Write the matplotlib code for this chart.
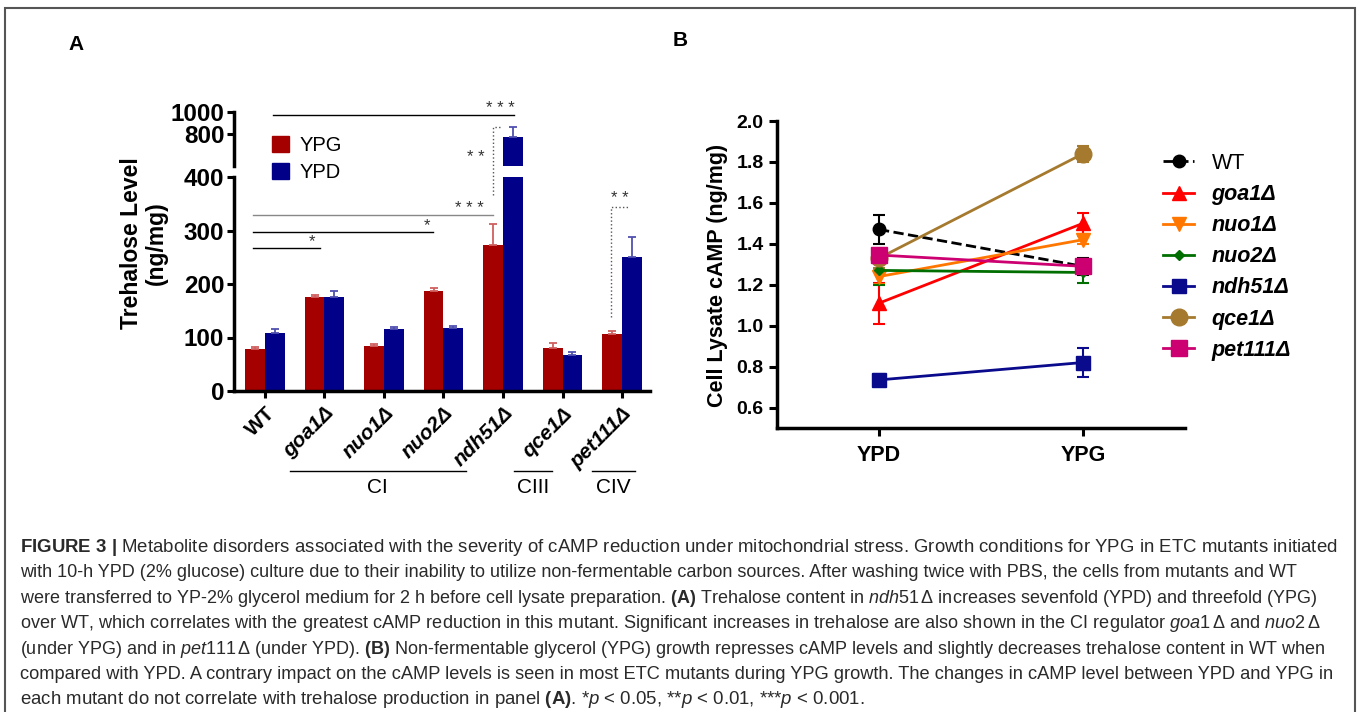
import matplotlib
matplotlib.use("Agg")
import matplotlib.pyplot as plt
import numpy as np
from matplotlib.patches import Patch, Rectangle
from matplotlib.lines import Line2D

plt.rcParams["font.family"] = ["Liberation Sans", "DejaVu Sans"]
plt.rcParams["mathtext.fontset"] = "custom"
plt.rcParams["mathtext.rm"] = "Liberation Sans"
plt.rcParams["mathtext.it"] = "Liberation Sans:italic"
plt.rcParams["mathtext.bf"] = "Liberation Sans:bold"

# ---- data: panel A (trehalose, ng/mg) ----
strains = ["WT", "goa1Δ", "nuo1Δ", "nuo2Δ", "ndh51Δ", "qce1Δ", "pet111Δ"]
ypg_tre = [78, 176, 85, 187, 273, 80, 106]
ypg_err = [5, 3, 2, 6, 39, 9, 7]
ypd_tre = [108, 176, 115, 117, 765, 67, 250]
ypd_err = [7, 11, 5, 4, 95, 6, 37]

# significance lines: (x start, x end, y, label, label x)
sig_lines = [(-0.2, 0.92, 267, "*", 0.79),
             (-0.2, 2.82, 297, "*", 2.72),
             (-0.2, 3.83, 329, "* * *", 3.44),
             (0.13, 4.18, 516, "* * *", 3.96)]
# dotted brackets: (x, x end, y low, y high, label, label x, label y)
brackets = [(3.83, 3.98, 366, 493, "* *", 3.54, 436),
            (5.82, 6.10, 138, 344, "* *", 5.96, 360)]
groups = [("CI", 0.42, 3.37), ("CIII", 4.19, 4.82), ("CIV", 5.49, 6.21)]

# ---- data: panel B (cell lysate cAMP, ng/mg) ----
conditions = ["YPD", "YPG"]
b_labels = ["WT", "goa1Δ", "nuo1Δ", "nuo2Δ", "ndh51Δ", "qce1Δ", "pet111Δ"]
b_ypd = [1.47, 1.11, 1.24, 1.27, 0.735, 1.33, 1.345]
b_ypd_err = [0.07, 0.10, 0.035, 0.07, 0.03, 0.05, 0.03]
b_ypg = [1.29, 1.50, 1.42, 1.26, 0.82, 1.84, 1.29]
b_ypg_err = [0.04, 0.05, 0.02, 0.05, 0.07, 0.04, 0.03]

b_colors = ["black", "#FF0000", "#FF7700", "#006E00", "#0A0A8C", "#A57A2F", "#CC0070"]
b_markers = ["o", "^", "v", "D", "s", "o", "s"]
b_msizes = [9, 10, 10, 5, 10, 12, 11]
b_styles = ["--", "-", "-", "-", "-", "-", "-"]

W, H = 1357, 712
fig = plt.figure(figsize=(W / 100, H / 100), dpi=100)


def fbox(l, t, r, b):
    return [l / W, 1 - b / H, (r - l) / W, (b - t) / H]


red, red_e = "#A50000", "#D06060"
blue, blue_e = "#000088", "#5050B0"

# ---- panel A: broken y axis ----
axA = fig.add_axes(fbox(234, 177, 650, 391))
axA2 = fig.add_axes(fbox(234, 112, 650, 166))
x = np.arange(len(strains))
bw = 0.33
zeros = np.zeros(len(strains))
for ax in (axA, axA2):
    ax.patch.set_alpha(0)
    ax.bar(x - bw / 2, ypg_tre, bw, color=red, yerr=[zeros, ypg_err],
           error_kw=dict(ecolor=red_e, capsize=3, elinewidth=1.3, capthick=1.3))
    ax.bar(x + bw / 2, ypd_tre, bw, color=blue, yerr=[zeros, ypd_err],
           error_kw=dict(ecolor=blue_e, capsize=3, elinewidth=1.3, capthick=1.3))
    ax.set_xlim(-0.52, 6.47)
    for s in ("top", "right"):
        ax.spines[s].set_visible(False)
    ax.spines["left"].set_linewidth(2.5)
    ax.tick_params(axis="y", direction="out", length=5, width=2.2, labelsize=17.5, pad=2)

axA.set_ylim(0, 400)
axA.set_yticks([0, 100, 200, 300, 400])
axA.spines["bottom"].set_linewidth(2.5)
axA.tick_params(axis="x", direction="out", length=5, width=2.2, pad=4)
axA.set_xticks(x)
axA.set_xticklabels(strains, rotation=45, ha="right", rotation_mode="anchor",
                    fontsize=15, fontweight="bold")
for lab in axA.get_xticklabels()[1:]:
    lab.set_fontstyle("italic")

axA2.set_ylim(500, 1000)
axA2.set_yticks([800, 1000])
axA2.spines["bottom"].set_visible(False)
axA2.set_xticks([])
for ax in (axA, axA2):
    for lab in ax.get_yticklabels():
        lab.set_fontweight("bold")

# significance marks
for x0, x1, y, lab, lx in sig_lines:
    col = "#888888" if y == 329 else "black"
    axA.plot([x0, x1], [y, y], color=col, lw=1, clip_on=False)
    axA.text(lx, y + 3, lab, ha="center", va="baseline", fontsize=12, color="#333333", clip_on=False)
for bx, bx2, y0, y1, lab, lx, ly in brackets:
    axA.plot([bx, bx, bx2], [y0, y1, y1], color="#555555", lw=1, ls=":", clip_on=False)
    axA.text(lx, ly, lab, ha="center", va="center", fontsize=12, color="#333333", clip_on=False)

# complex groups under the x labels
tr = axA.get_xaxis_transform()
for name, s, e in groups:
    axA.plot([s, e], [-0.374, -0.374], transform=tr, color="black", lw=1, clip_on=False)
    axA.text((s + e) / 2, -0.45, name, transform=tr, ha="center", va="center", fontsize=15)

fig.legend(handles=[Patch(color=red, label="YPG"), Patch(color=blue, label="YPD")],
           loc="upper left", bbox_to_anchor=(272 / W, 1 - 136 / H), frameon=False,
           fontsize=14.5, handlelength=0.85, handleheight=0.85, handletextpad=0.5,
           labelspacing=0.4, borderpad=0, borderaxespad=0)

fig.text(144 / W, 1 - 243 / H, "Trehalose Level\n(ng/mg)", rotation=90, ha="center",
         va="center", fontsize=16.5, fontweight="bold", linespacing=1.1)

# ---- panel B ----
axB = fig.add_axes(fbox(777, 121, 1185, 428))
handles = []
for i in range(len(b_labels)):
    axB.errorbar([0, 1], [b_ypd[i], b_ypg[i]], yerr=[b_ypd_err[i], b_ypg_err[i]],
                 color=b_colors[i], marker=b_markers[i], ms=b_msizes[i], lw=2,
                 ls=b_styles[i], capsize=4, capthick=1.5, elinewidth=1.5)
    handles.append(Line2D([0], [0], color=b_colors[i], marker=b_markers[i],
                          ms=b_msizes[i], lw=2, ls=b_styles[i], label=b_labels[i]))
axB.set_xlim(-0.5, 1.5)
axB.set_ylim(0.5, 2.0)
axB.set_xticks([0, 1])
axB.set_xticklabels(conditions, fontsize=15.5, fontweight="bold")
axB.set_yticks(np.arange(0.6, 2.01, 0.2))
axB.set_yticklabels([f"{v:.1f}" for v in np.arange(0.6, 2.01, 0.2)], fontsize=14, fontweight="bold")
for s in ("top", "right"):
    axB.spines[s].set_visible(False)
for s in ("left", "bottom"):
    axB.spines[s].set_linewidth(2.5)
axB.tick_params(axis="both", direction="out", length=6, width=2.2)
axB.tick_params(axis="x", pad=6)
fig.text(718 / W, 1 - 275 / H, "Cell Lysate cAMP (ng/mg)", rotation=90, ha="center",
         va="center", fontsize=15.5, fontweight="bold")

legB = fig.legend(handles=handles, loc="upper left", bbox_to_anchor=(1163 / W, 1 - 153 / H),
                  frameon=False, fontsize=15.5, handlelength=1.45, handletextpad=0.8,
                  labelspacing=0.47, borderpad=0, borderaxespad=0)
for t in legB.get_texts()[1:]:
    t.set_fontweight("bold")
    t.set_fontstyle("italic")

# panel letters
fig.text(76 / W, 1 - 45 / H, "A", fontsize=15, fontweight="bold", ha="center", va="center")
fig.text(680 / W, 1 - 40 / H, "B", fontsize=15, fontweight="bold", ha="center", va="center")

# ---- caption ----
caption = [
    r"$\mathbf{FIGURE\ 3\ |}$ Metabolite disorders associated with the severity of cAMP reduction under mitochondrial stress. Growth conditions for YPG in ETC mutants initiated",
    r"with 10-h YPD (2% glucose) culture due to their inability to utilize non-fermentable carbon sources. After washing twice with PBS, the cells from mutants and WT",
    r"were transferred to YP-2% glycerol medium for 2 h before cell lysate preparation. $\mathbf{(A)}$ Trehalose content in $\mathit{ndh51}\,\Delta$ increases sevenfold (YPD) and threefold (YPG)",
    r"over WT, which correlates with the greatest cAMP reduction in this mutant. Significant increases in trehalose are also shown in the CI regulator $\mathit{goa1}\,\Delta$ and $\mathit{nuo2}\,\Delta$",
    r"(under YPG) and in $\mathit{pet111}\,\Delta$ (under YPD). $\mathbf{(B)}$ Non-fermentable glycerol (YPG) growth represses cAMP levels and slightly decreases trehalose content in WT when",
    r"compared with YPD. A contrary impact on the cAMP levels is seen in most ETC mutants during YPG growth. The changes in cAMP level between YPD and YPG in",
    r"each mutant do not correlate with trehalose production in panel $\mathbf{(A)}$. *$\mathit{p}$ < 0.05, **$\mathit{p}$ < 0.01, ***$\mathit{p}$ < 0.001.",
]
cap_right = [1336, 1290, 1318, 1320, 1318, 1330, 862]
cap_texts = []
for i, line in enumerate(caption):
    cap_texts.append(fig.text(20 / W, 1 - (552 + 25.4 * i) / H, line, fontsize=13,
                              ha="left", va="baseline", color="#2a2a2a"))
renderer = fig.canvas.get_renderer()
for t, r in zip(cap_texts, cap_right):
    w0 = t.get_window_extent(renderer).width
    t.set_fontsize(13 * (r - 20) / w0)

fig.add_artist(Rectangle((5 / W, -0.05), 1350 / W, 1.05 - 8 / H, transform=fig.transFigure,
                         fill=False, edgecolor="#555555", lw=1.5))

fig.savefig("out.png", dpi=100)
